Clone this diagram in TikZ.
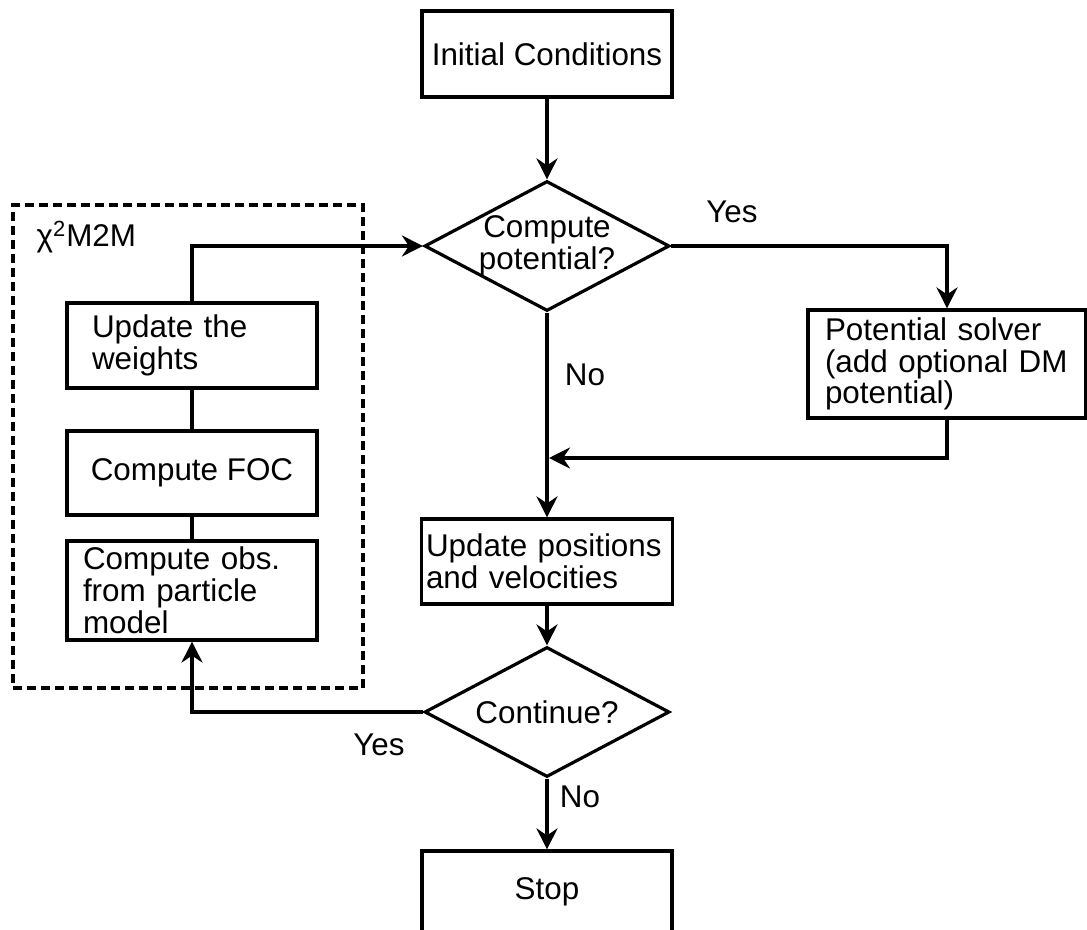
\documentclass[tikz,border=0pt]{standalone}
\usepackage{fontspec}
\setmainfont{Liberation Sans}
\usetikzlibrary{shapes,arrows.meta,calc}

\begin{document}
\begin{tikzpicture}
  [
    x=0.5pt, y=-0.5pt, line width=1.6pt,
    font=\fontsize{15.7}{15.9}\selectfont,
    block/.style =
      {draw, rectangle, inner sep=0pt, align=left},
    decision/.style =
      {draw, diamond, inner sep=0pt, minimum width=122.5pt, minimum height=65pt},
    group/.style =
      {draw, rectangle, dash pattern=on 4.5pt off 2.5pt},
    flow/.style =
      {->, >={Stealth[length=10.5pt, width=10.5pt, inset=3.5pt]}},
    tag/.style =
      {inner sep=0pt}
  ]

\clip (0,0) rectangle (1087,930);

\node[block, minimum width=125pt, minimum height=43pt, align=center] (ic) at (547,54) {Initial Conditions};
\node[decision, label={[align=center]center:Compute\\potential?}] (pot) at (547,246) {};
\node[block, minimum width=139pt, minimum height=54pt, text width=122pt] (ps) at (947,364) {Potential solver\\(add optional DM\\potential)};
\node[block, minimum width=125.5pt, minimum height=42.5pt, text width=121pt] (up) at (547,561.5) {Update positions\\and velocities};
\node[decision, label=center:Continue?] (cont) at (547,712) {};
\node[block, minimum width=125pt, minimum height=41pt, align=center] (stop) at (547,892) {Stop};

\node[group, minimum width=175pt, minimum height=241.5pt] (m2m) at (188,446.5) {};
\node[tag, anchor=base west] (m2mname) at (35,247) {χ\textsuperscript{2}M2M};
\node[block, minimum width=125pt, minimum height=42.5pt, text width=100pt] (uw) at (192,345.5) {Update the\\weights};
\node[block, minimum width=125pt, minimum height=42pt, align=center] (foc) at (192,473) {Compute FOC};
\node[block, minimum width=125pt, minimum height=49.5pt, text width=109pt] (obs) at (192,590.5) {Compute obs.\\from particle\\model};

\node[tag] (yes1) at (732,212) {Yes};
\node[tag] (no1) at (585,375) {No};
\node[tag] (yes2) at (379,745) {Yes};
\node[tag] (no2) at (580,797) {No};

\coordinate (join) at (549,458);

\draw[flow] (ic) -- (pot);
\draw[flow] (uw.north) |- (pot.west);
\draw[flow] (pot.east) -| (ps.north);
\draw[flow] (pot.south) -- (up.north);
\draw[flow] (ps.south) |- (join);
\draw[flow] (up) -- (cont);
\draw[flow] (cont.west) -| (obs.south);
\draw[flow] (cont) -- (stop);
\draw (uw) -- (foc);
\draw (foc) -- (obs);

\end{tikzpicture}
\end{document}
